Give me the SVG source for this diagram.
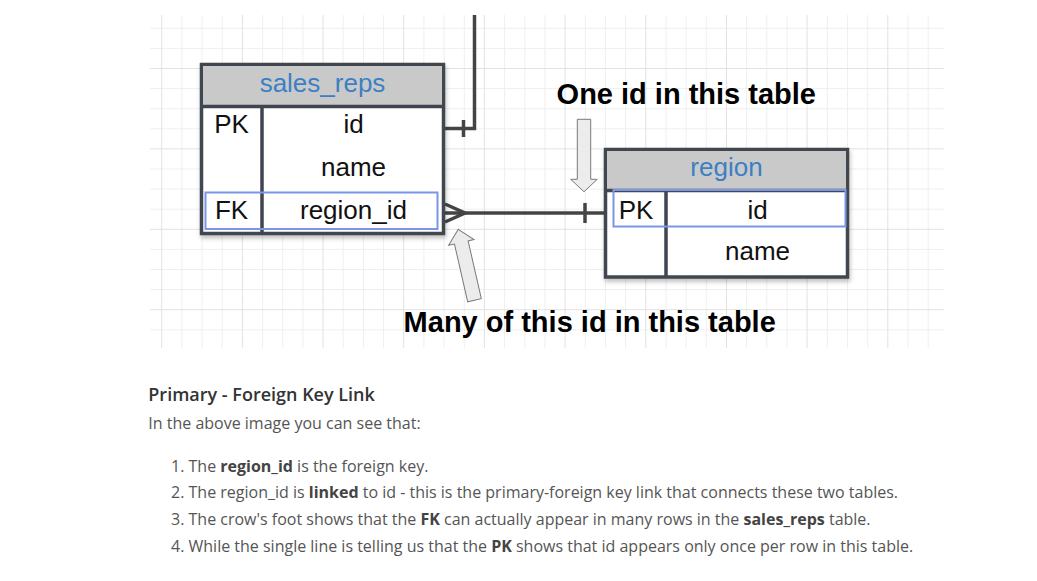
<svg xmlns="http://www.w3.org/2000/svg" width="1037" height="581" viewBox="0 0 1037 581">
<defs>
<style>
.gl{stroke:#efefef;stroke-width:1;fill:none}
.gd{stroke:#e2e2e2;stroke-width:1;fill:none}
.tb{fill:#ffffff;stroke:#3f4650;stroke-width:3.5}
.hd{fill:#c9c9c9}
.ln{stroke:#3f4650;stroke-width:3.5;fill:none}
.hl{fill:none;stroke:#7b96e6;stroke-width:2}
.tt{font-family:"Liberation Sans",Arial,sans-serif;font-size:26px;fill:#3b7fc4;text-anchor:middle}
.cell{font-family:"Liberation Sans",Arial,sans-serif;font-size:26px;fill:#111;text-anchor:middle}
.cn{stroke:#444;stroke-width:3.5;fill:none}
.ar{fill:#ececec;stroke:#7a7a7a;stroke-width:1}
.big{font-family:"Liberation Sans",Arial,sans-serif;font-size:29px;font-weight:bold;fill:#000;text-anchor:middle}
.h{font-family:"Open Sans",sans-serif;font-size:18px;font-weight:600;fill:#333}
.p{font-family:"Open Sans",sans-serif;font-size:16px;fill:#555}
.b{font-weight:bold;fill:#444}
</style>
<filter id="sh" x="-10%" y="-10%" width="130%" height="130%">
<feDropShadow dx="1" dy="3" stdDeviation="2" flood-color="#000" flood-opacity="0.25"/>
</filter>
</defs>
<rect width="1037" height="581" fill="#ffffff"/>
<g id="grid">
<path class="gl" d="M181.9,15V348M202,15V348M222.2,15V348M262.6,15V348M282.7,15V348M302.9,15V348M343.2,15V348M363.4,15V348M383.6,15V348M423.9,15V348M444.1,15V348M464.3,15V348M504.6,15V348M524.8,15V348M544.9,15V348M585.3,15V348M605.4,15V348M625.6,15V348M666,15V348M686.1,15V348M706.3,15V348M746.6,15V348M766.8,15V348M787,15V348M827.3,15V348M847.5,15V348M867.7,15V348M908,15V348M928.2,15V348"/>
<path class="gl" d="M150,28.3H944M150,48.4H944M150,88.6H944M150,108.7H944M150,128.8H944M150,169H944M150,189.1H944M150,209.2H944M150,249.4H944M150,269.5H944M150,289.6H944M150,329.8H944"/>
<path class="gd" d="M161.7,15V348M242.4,15V348M323.1,15V348M403.7,15V348M484.4,15V348M565.1,15V348M645.8,15V348M726.5,15V348M807.1,15V348M887.8,15V348"/>
<path class="gd" d="M150,68.5H944M150,148.9H944M150,229.3H944M150,309.7H944"/>
</g>
<g id="connectors">
<path class="cn" d="M474.5,15V128.5H445"/>
<path class="cn" d="M463.5,120V137"/>
<path class="cn" d="M445,213H604"/>
<path class="cn" d="M445,204L465,213L445,222"/>
<path class="cn" d="M585,203V223"/>
</g>
<g id="sales_reps">
<rect class="tb" x="201.5" y="64.5" width="242" height="169" filter="url(#sh)"/>
<rect class="hd" x="203" y="66" width="239" height="40"/>
<path class="ln" d="M201.5,106.5H443.5M262,106.5V233.5"/>
<rect class="hl" x="205.5" y="192.5" width="232" height="36.5"/>
<text class="tt" x="322.5" y="92">sales_reps</text>
<text class="cell" x="231.5" y="133">PK</text>
<text class="cell" x="353.5" y="133">id</text>
<text class="cell" x="353.5" y="176">name</text>
<text class="cell" x="231.5" y="219">FK</text>
<text class="cell" x="353.5" y="219">region_id</text>
</g>
<g id="region">
<rect class="tb" x="605.5" y="149.5" width="242" height="127.5" filter="url(#sh)"/>
<rect class="hd" x="607" y="151" width="239" height="38.5"/>
<path class="ln" d="M605.5,190.5H847.5M666,190.5V277"/>
<rect class="hl" x="613.5" y="190" width="232" height="36.5"/>
<text class="tt" x="726.5" y="176">region</text>
<text class="cell" x="636" y="218.5">PK</text>
<text class="cell" x="757.5" y="218.5">id</text>
<text class="cell" x="757.5" y="260">name</text>
</g>
<g id="label_one">
<polygon class="ar" points="577.3,119.3 590.7,119.3 590.7,179.3 597.3,179.3 584,191.7 570.7,179.3 577.3,179.3"/>
<text class="big" x="686.3" y="104.3">One id in this table</text>
</g>
<g id="label_many">
<polygon class="ar" transform="translate(458.3,229.3) rotate(-12.86)" points="0,0 13,13.5 7,13.5 7,72.8 -7,72.8 -7,13.5 -13,13.5"/>
<text class="big" x="589.7" y="331.7">Many of this id in this table</text>
</g>
<g id="text">
<text class="h" x="148.3" y="400.7">Primary - Foreign Key Link</text>
<text class="p" x="148.3" y="429.3">In the above image you can see that:</text>
<text class="p" x="171" y="471.7">1. The <tspan class="b">region_id</tspan> is the foreign key.</text>
<text class="p" x="171" y="498.3">2. The region_id is <tspan class="b">linked</tspan> to id - this is the primary-foreign key link that connects these two tables.</text>
<text class="p" x="171" y="525.3">3. The crow's foot shows that the <tspan class="b">FK</tspan> can actually appear in many rows in the <tspan class="b">sales_reps</tspan> table.</text>
<text class="p" x="171" y="552">4. While the single line is telling us that the <tspan class="b">PK</tspan> shows that id appears only once per row in this table.</text>
</g>
</svg>
